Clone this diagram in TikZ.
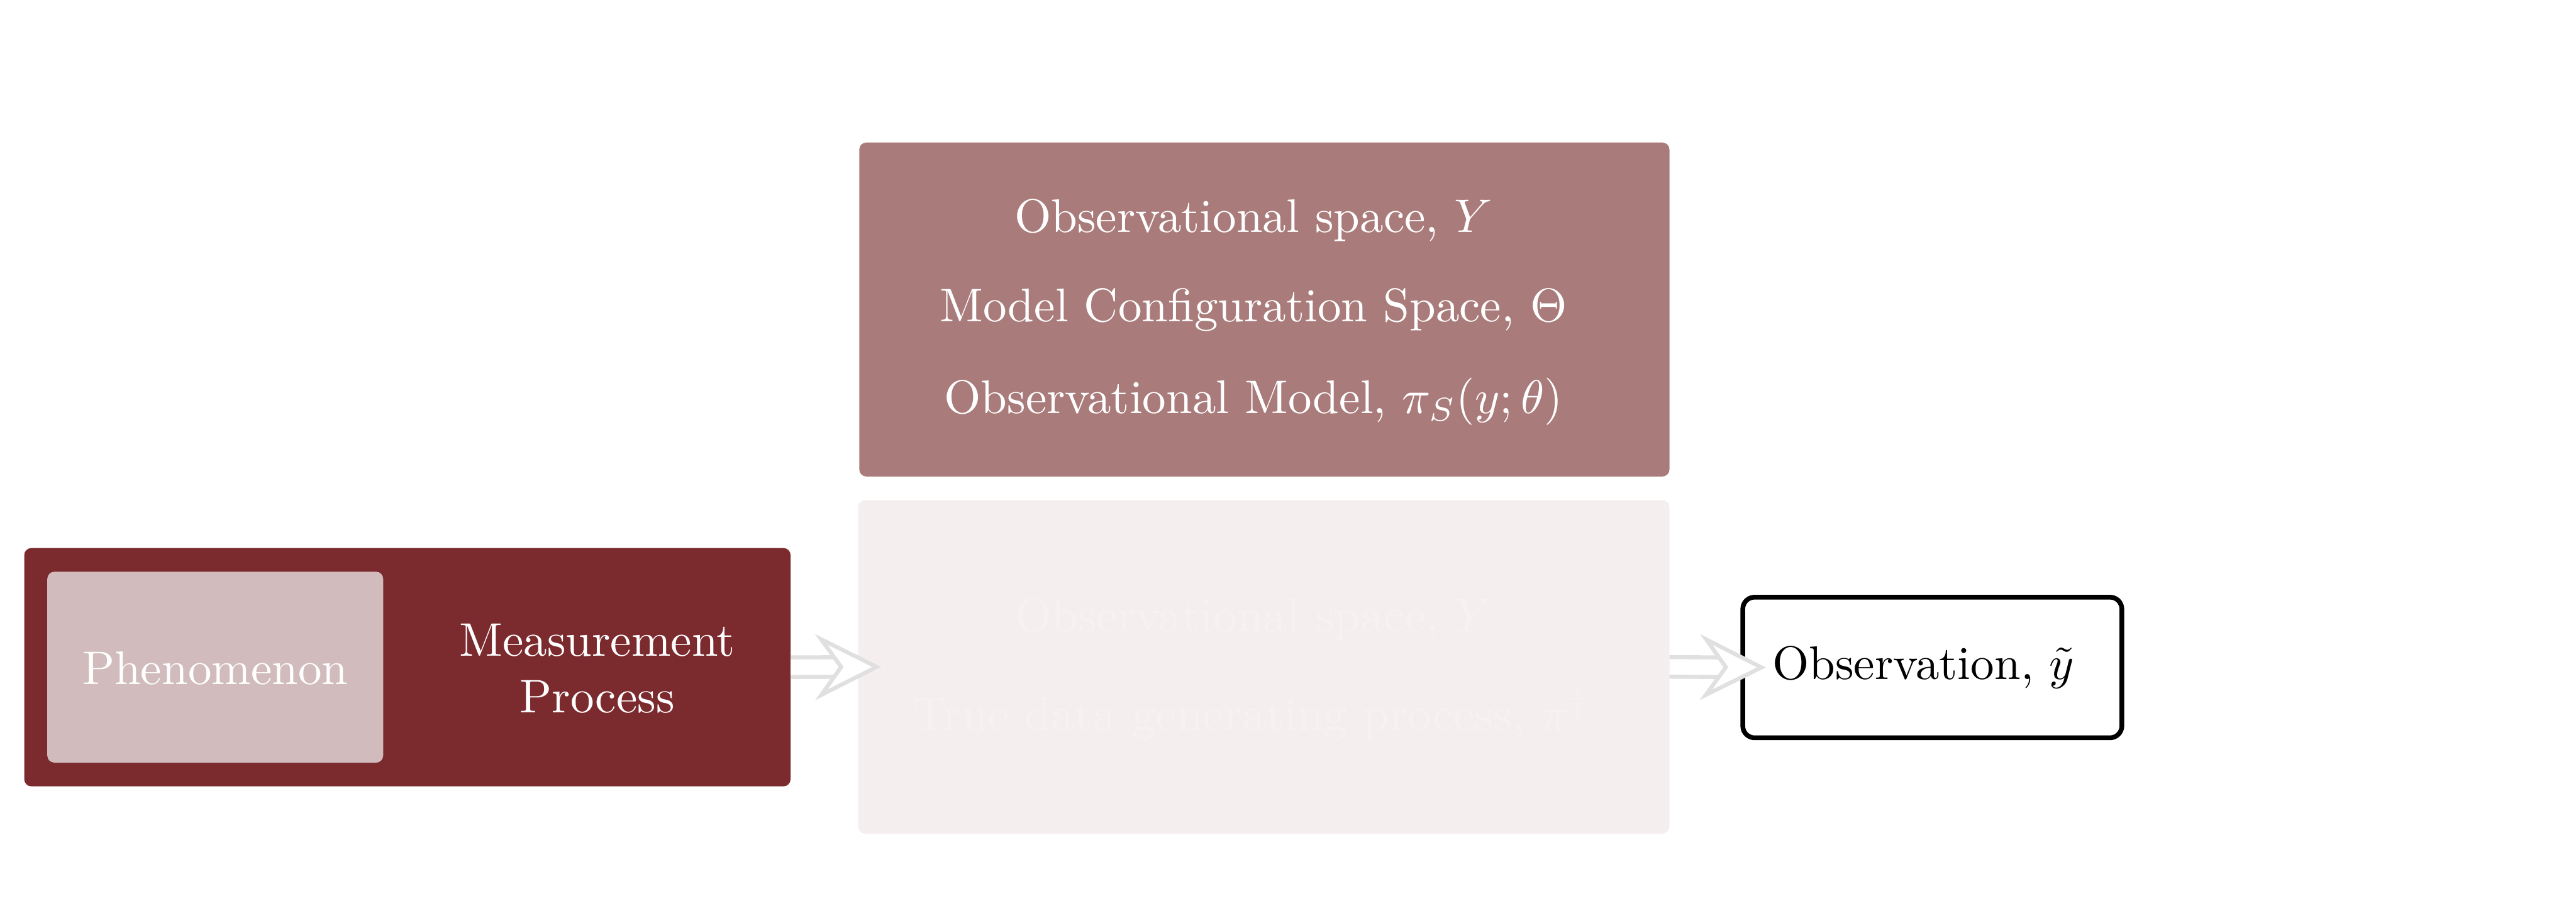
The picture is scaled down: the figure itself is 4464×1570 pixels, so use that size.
\documentclass[tikz,border=0pt]{standalone}
\usetikzlibrary{arrows.meta}
\definecolor{measred}{HTML}{7B2A2E}
\definecolor{phenfill}{HTML}{D1BBBC}
\definecolor{modelfill}{HTML}{A97C7B}
\definecolor{faintfill}{HTML}{F4EFEE}
\definecolor{fainttext}{HTML}{F6F2F1}
\definecolor{arrowgray}{HTML}{E0E0E0}
\tikzset{
  panel/.style={rounded corners=1.5pt, inner sep=0pt, outer sep=0pt, draw=none},
  whitetext/.style={text=white, inner sep=0pt, anchor=base},
  faintlabel/.style={text=fainttext, inner sep=0pt, anchor=base},
  obsbox/.style={draw=black, line width=1pt, rounded corners=2.5pt, fill=white, inner sep=0pt, outer sep=0pt},
  flow/.style={draw=arrowgray, line width=0.85pt, double=white, double distance=3.3pt,
    -{Stealth[length=14pt,width=14pt,inset=5pt,line width=0.85pt,fill=white]}}
}
\begin{document}
\begin{tikzpicture}[x=0.12225pt, y=-0.12225pt]
\useasboundingbox (0,0) rectangle (4464,1570);
% measurement process box
\node[panel, fill=measred, minimum width=162.35pt, minimum height=50.49pt] (meas) at (706,1156.5) {};
\node[panel, fill=phenfill, minimum width=71.15pt, minimum height=40.46pt] (phen) at (373,1156.5) {};
\node[whitetext] (phentext) at (373,1186) {Phenomenon};
\node[whitetext] (meas1) at (1035,1137) {Measurement};
\node[whitetext] (meas2) at (1035,1235) {Process};
% model box
\node[panel, fill=modelfill, minimum width=171.64pt, minimum height=70.78pt] (model) at (2191,536.5) {};
\node[whitetext] (m1) at (2172,403) {Observational space, $Y$};
\node[whitetext] (m2) at (2172,558) {Model Configuration Space, $\Theta$};
\node[whitetext] (m3) at (2172,717) {Observational Model, $\pi_S(y;\theta)$};
% faint box
\node[panel, fill=faintfill, minimum width=171.9pt, minimum height=70.66pt] (faint) at (2190,1156) {};
\node[faintlabel] (f1) at (2173,1095) {Observational space, $Y$};
\node[faintlabel] (f2) at (2168,1266) {True data generating process, $\pi^{\dagger}$};
% observation box
\node[obsbox, minimum width=80.3pt, minimum height=29.8pt] (obs) at (3348.5,1157) {};
\node[inner sep=0pt, anchor=base] (obstext) at (3333,1178) {Observation, $\tilde{y}$};
% arrows
\draw[flow] (meas.east) -- ([xshift=4.9pt]faint.west);
\draw[flow] (faint.east) -- ([xshift=4.9pt]obs.west);
\end{tikzpicture}
\end{document}
